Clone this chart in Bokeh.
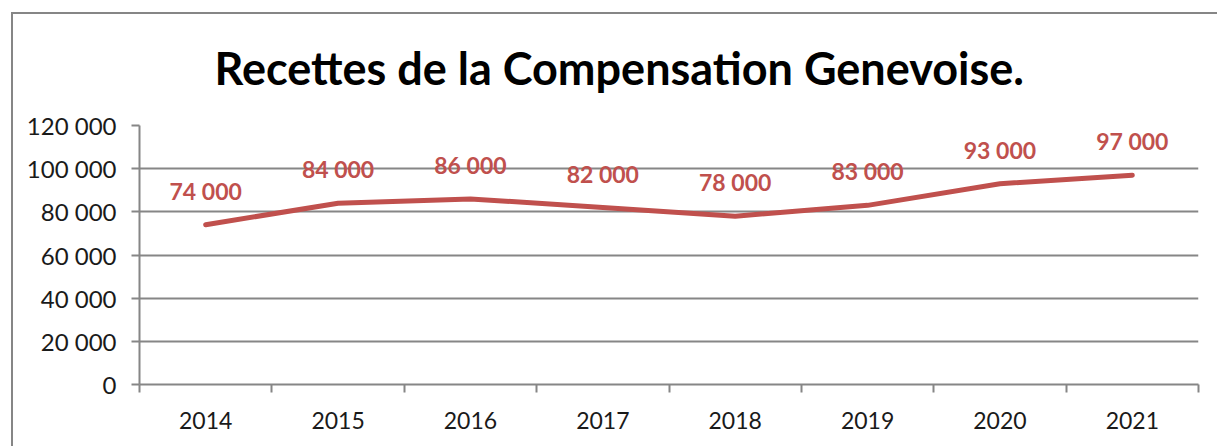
from bokeh.plotting import figure
from bokeh.models import (FixedTicker, Range1d, LabelSet, ColumnDataSource,
                          InlineStyleSheet)
from bokeh.core.properties import value
from bokeh.embed import file_html
from bokeh.resources import INLINE

title_text = "Recettes de la Compensation Genevoise."
years = ["2014", "2015", "2016", "2017", "2018", "2019", "2020", "2021"]
recettes = [74000, 84000, 86000, 82000, 78000, 83000, 93000, 97000]
y_ticks = [0, 20000, 40000, 60000, 80000, 100000, 120000]

def fmt(v):
    return f"{v:,}".replace(",", " ")

FONT = "Lato"
RED = "#C0504D"
GRAY = "#868686"
TXT = "#1a1a1a"

border_css = InlineStyleSheet(css="""
.bk-Canvas::after {
  content: "";
  position: absolute;
  left: 11px;
  top: 12px;
  width: 3000px;
  height: 3000px;
  border-left: 2px solid #868686;
  border-top: 2px solid #868686;
  pointer-events: none;
}
""")

W, H = 1217, 446
p = figure(width=W, height=H, output_backend="svg", toolbar_location=None,
           x_range=Range1d(0, len(years)), y_range=Range1d(y_ticks[0], y_ticks[-1]),
           min_border_left=139, min_border_right=19, min_border_top=125,
           min_border_bottom=62, stylesheets=[border_css])
p.outline_line_color = None
p.background_fill_color = "white"
p.border_fill_color = "white"

p.title.text = title_text
p.title.align = "left"
p.title.offset = 75
p.title.text_font = FONT
p.title.text_font_style = "bold"
p.title.text_font_size = "45px"
p.title.text_color = "black"
p.title.standoff = 61

xs = [i + 0.5 for i in range(len(years))]
src = ColumnDataSource(dict(x=xs, y=recettes, lab=[fmt(v) for v in recettes]))
p.line("x", "y", source=src, line_color=RED, line_width=5, line_join="round",
       line_cap="round")
p.add_layout(LabelSet(x="x", y="y", text="lab", source=src, y_offset=34,
                      text_align="center", text_baseline="middle",
                      text_color=RED, text_font=value(FONT), text_font_style="bold",
                      text_font_size=value("23px")))

# x axis
p.xaxis.ticker = FixedTicker(ticks=xs, minor_ticks=list(range(len(years) + 1)))
p.xaxis.major_label_overrides = {x: y for x, y in zip(xs, years)}
p.xaxis.major_tick_out = 0
p.xaxis.major_tick_in = 0
p.xaxis.minor_tick_out = 8
p.xaxis.minor_tick_in = 0
p.xaxis.minor_tick_line_color = GRAY
p.xaxis.minor_tick_line_width = 2
p.xaxis.axis_line_color = GRAY
p.xaxis.axis_line_width = 2
p.xaxis.major_label_text_font = FONT
p.xaxis.major_label_text_font_size = "23px"
p.xaxis.major_label_text_color = TXT
p.xaxis.major_label_standoff = 19
p.xgrid.grid_line_color = None

# y axis
p.yaxis.ticker = FixedTicker(ticks=y_ticks, minor_ticks=[])
p.yaxis.major_label_overrides = {v: fmt(v) for v in y_ticks}
p.yaxis.major_tick_out = 8
p.yaxis.major_tick_in = 0
p.yaxis.major_tick_line_color = GRAY
p.yaxis.major_tick_line_width = 2
p.yaxis.axis_line_color = GRAY
p.yaxis.axis_line_width = 2
p.yaxis.major_label_text_font = FONT
p.yaxis.major_label_text_font_size = "24px"
p.yaxis.major_label_text_color = TXT
p.yaxis.major_label_standoff = 15
p.ygrid.grid_line_color = GRAY
p.ygrid.grid_line_width = 2

open("out.html", "w").write(file_html(p, INLINE))
